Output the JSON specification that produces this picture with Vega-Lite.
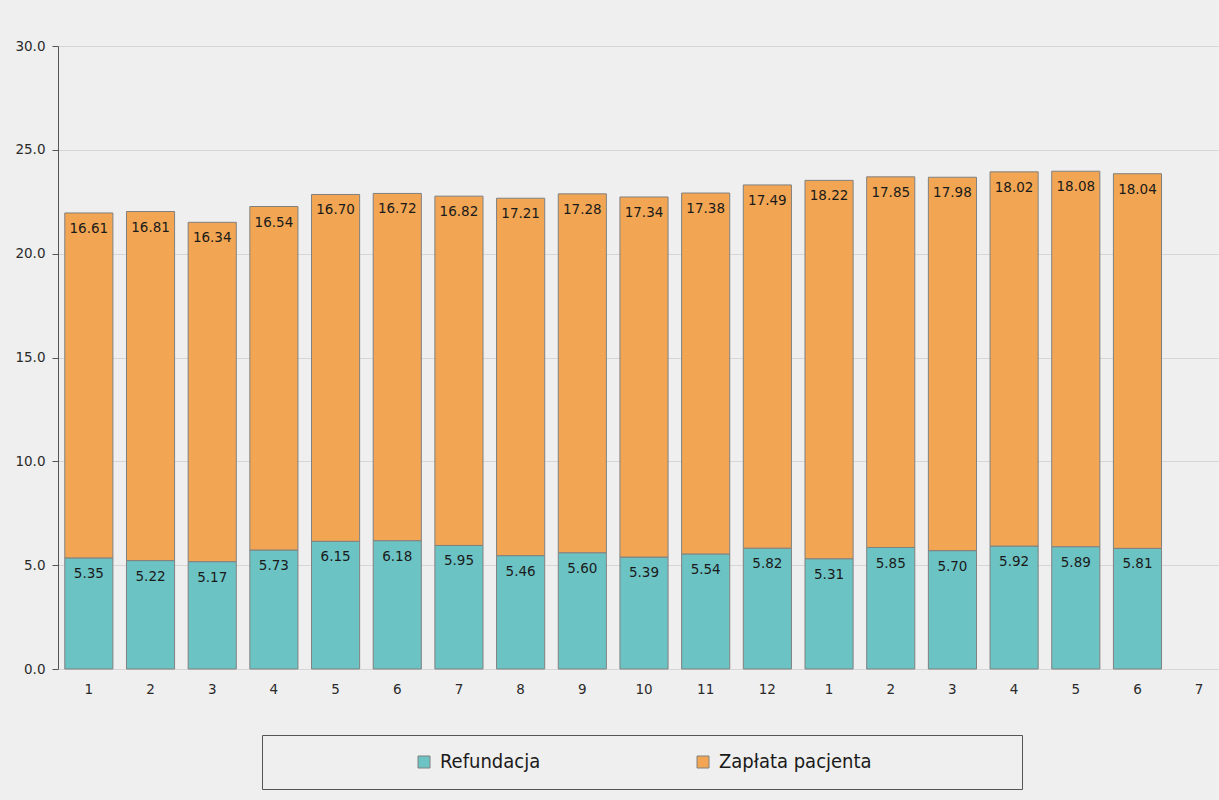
{
  "$schema": "https://vega.github.io/schema/vega-lite/v6.json",
  "autosize": "none",
  "width": 1161,
  "height": 623,
  "padding": {"left": 58, "top": 46, "right": 0, "bottom": 131},
  "background": "#efefef",
  "config": {
    "view": {"stroke": null},
    "font": "DejaVu Sans"
  },
  "data": {
    "values": [
      {"k": "a1", "seria": "Refundacja", "value": 5.35},
      {"k": "a2", "seria": "Refundacja", "value": 5.22},
      {"k": "a3", "seria": "Refundacja", "value": 5.17},
      {"k": "a4", "seria": "Refundacja", "value": 5.73},
      {"k": "a5", "seria": "Refundacja", "value": 6.15},
      {"k": "a6", "seria": "Refundacja", "value": 6.18},
      {"k": "a7", "seria": "Refundacja", "value": 5.95},
      {"k": "a8", "seria": "Refundacja", "value": 5.46},
      {"k": "a9", "seria": "Refundacja", "value": 5.60},
      {"k": "a10", "seria": "Refundacja", "value": 5.39},
      {"k": "a11", "seria": "Refundacja", "value": 5.54},
      {"k": "a12", "seria": "Refundacja", "value": 5.82},
      {"k": "b1", "seria": "Refundacja", "value": 5.31},
      {"k": "b2", "seria": "Refundacja", "value": 5.85},
      {"k": "b3", "seria": "Refundacja", "value": 5.70},
      {"k": "b4", "seria": "Refundacja", "value": 5.92},
      {"k": "b5", "seria": "Refundacja", "value": 5.89},
      {"k": "b6", "seria": "Refundacja", "value": 5.81},
      {"k": "a1", "seria": "Zapłata pacjenta", "value": 16.61},
      {"k": "a2", "seria": "Zapłata pacjenta", "value": 16.81},
      {"k": "a3", "seria": "Zapłata pacjenta", "value": 16.34},
      {"k": "a4", "seria": "Zapłata pacjenta", "value": 16.54},
      {"k": "a5", "seria": "Zapłata pacjenta", "value": 16.70},
      {"k": "a6", "seria": "Zapłata pacjenta", "value": 16.72},
      {"k": "a7", "seria": "Zapłata pacjenta", "value": 16.82},
      {"k": "a8", "seria": "Zapłata pacjenta", "value": 17.21},
      {"k": "a9", "seria": "Zapłata pacjenta", "value": 17.28},
      {"k": "a10", "seria": "Zapłata pacjenta", "value": 17.34},
      {"k": "a11", "seria": "Zapłata pacjenta", "value": 17.38},
      {"k": "a12", "seria": "Zapłata pacjenta", "value": 17.49},
      {"k": "b1", "seria": "Zapłata pacjenta", "value": 18.22},
      {"k": "b2", "seria": "Zapłata pacjenta", "value": 17.85},
      {"k": "b3", "seria": "Zapłata pacjenta", "value": 17.98},
      {"k": "b4", "seria": "Zapłata pacjenta", "value": 18.02},
      {"k": "b5", "seria": "Zapłata pacjenta", "value": 18.08},
      {"k": "b6", "seria": "Zapłata pacjenta", "value": 18.04}
    ]
  },
  "transform": [
    {"stack": "value", "groupby": ["k"], "sort": [{"field": "seria"}], "as": ["y0", "y1"]}
  ],
  "encoding": {
    "x": {
      "field": "k",
      "type": "ordinal",
      "sort": null,
      "title": null,
      "scale": {
        "domain": ["a1","a2","a3","a4","a5","a6","a7","a8","a9","a10","a11","a12","b1","b2","b3","b4","b5","b6","b7"],
        "range": [0, 1172],
        "paddingInner": 0.22,
        "paddingOuter": 0.11
      },
      "axis": {
        "labelExpr": "substring(datum.label, 1)",
        "labelAngle": 0,
        "labelFontSize": 13.5,
        "labelColor": "#2a2a2a",
        "labelPadding": 13,
        "ticks": false,
        "domain": false
      }
    }
  },
  "layer": [
    {
      "mark": {"type": "bar", "stroke": "#808080", "strokeWidth": 1},
      "encoding": {
        "y": {
          "field": "y1",
          "type": "quantitative",
          "title": null,
          "scale": {"domain": [0, 30], "nice": false},
          "axis": {
            "values": [0, 5, 10, 15, 20, 25, 30],
            "format": ".1f",
            "labelFontSize": 13.5,
            "labelColor": "#2a2a2a",
            "labelPadding": 7,
            "tickSize": 6,
            "tickColor": "#555555",
            "domainColor": "#555555",
            "gridColor": "#d6d6d6"
          }
        },
        "y2": {"field": "y0"},
        "color": {
          "field": "seria",
          "type": "nominal",
          "scale": {"domain": ["Refundacja", "Zapłata pacjenta"], "range": ["#6cc3c4", "#f2a653"]},
          "legend": {
            "title": " ",
            "titleOrient": "right",
            "titleFontSize": 1,
            "titlePadding": 133,
            "orient": "none",
            "legendX": 204,
            "legendY": 689,
            "direction": "horizontal",
            "symbolType": "square",
            "symbolSize": 144,
            "symbolStrokeColor": "#808080",
            "symbolStrokeWidth": 1,
            "symbolOpacity": 1,
            "symbolOffset": 135,
            "labelOffset": 6,
            "labelFont": "DejaVu Sans Condensed",
            "labelFontSize": 20,
            "labelColor": "#1a1a1a",
            "columnPadding": 17,
            "padding": 17,
            "fillColor": "#efefef",
            "strokeColor": "#555555",
            "cornerRadius": 0
          }
        }
      }
    },
    {
      "mark": {"type": "text", "baseline": "top", "dy": 9, "fontSize": 13.5, "color": "#1a1a1a"},
      "encoding": {
        "y": {"field": "y1", "type": "quantitative"},
        "text": {"field": "value", "type": "quantitative", "format": ".2f"}
      }
    }
  ]
}
